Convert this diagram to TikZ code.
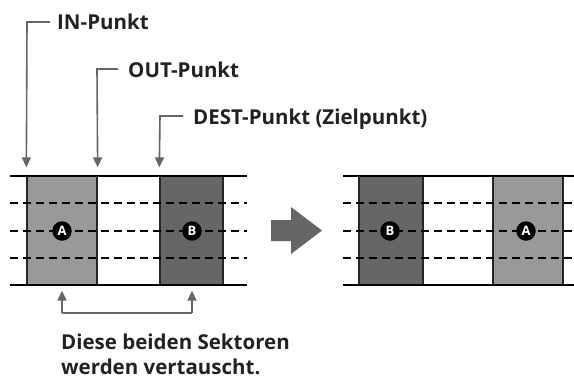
\documentclass[tikz,border=0pt]{standalone}
\usepackage{fontspec}
\setmainfont{Open Sans}
\usetikzlibrary{arrows.meta}
\definecolor{txt}{HTML}{222222}
\definecolor{arr}{HTML}{666666}
\definecolor{lightcol}{HTML}{999999}
\definecolor{darkcol}{HTML}{666666}
\tikzset{
  lbl/.style={anchor=base west, inner sep=0pt, text=txt, font=\bfseries\fontsize{20.5}{24}\selectfont},
  pointer/.style={draw=arr, line width=1.6pt, -{Triangle[width=9pt,length=10pt]}},
  rail/.style={draw=black, line width=2.2pt},
  dashrail/.style={draw=black, line width=2.2pt, dash pattern=on 8pt off 5pt},
  sector/.style={draw=black!85, line width=1.3pt, minimum width=#1, minimum height=109pt, inner sep=0pt},
  badge/.style={circle, fill=black, text=white, inner sep=0pt, minimum size=19.5pt, font=\bfseries\fontsize{13}{13}\selectfont},
  bigarrow/.style={fill=arr}
}
\begin{document}
\begin{tikzpicture}[x=1pt,y=-1pt]
\useasboundingbox (0,0) rectangle (574,378);
% left panel
\node[sector=70pt, fill=lightcol] (colA) at (62,230.5) {};
\node[sector=63pt, fill=darkcol] (colB) at (191.5,230.5) {};
\coordinate (Lt1) at (10,176); \coordinate (Lt2) at (247,176);
\coordinate (Lb1) at (10,285); \coordinate (Lb2) at (247,285);
\draw[rail] (Lt1) -- (Lt2);
\draw[rail] (Lb1) -- (Lb2);
\foreach \y in {203,231,258} \draw[dashrail] (10,\y) -- (247,\y);
\node[badge] (bA) at (62,231) {A};
\node[badge] (bB) at (192,231) {B};
% right panel
\node[sector=70pt, fill=lightcol] (colA2) at (528,230.5) {};
\node[sector=64pt, fill=darkcol] (colB2) at (391,230.5) {};
\coordinate (Rt1) at (343,176); \coordinate (Rt2) at (574,176);
\coordinate (Rb1) at (343,285); \coordinate (Rb2) at (574,285);
\draw[rail] (Rt1) -- (Rt2);
\draw[rail] (Rb1) -- (Rb2);
\foreach \y in {203,231,258} \draw[dashrail] (343,\y) -- (574,\y);
\node[badge] (bB2) at (390,231) {B};
\node[badge] (bA2) at (526,231) {A};
% big arrow
\fill[bigarrow] (271,220) -- (291,220) -- (291,207) -- (322,230.5) -- (291,254) -- (291,241) -- (271,241) -- cycle;
% labels
\node[lbl] (tIN) at (57,29) {IN-Punkt};
\node[lbl] (tOUT) at (128,77) {OUT-Punkt};
\node[lbl] (tDEST) at (193,124) {DEST-Punkt (Zielpunkt)};
\coordinate (sIN) at (50,22);   \coordinate (eIN) at (27,22);
\coordinate (sOUT) at (118,69); \coordinate (eOUT) at (97,69);
\coordinate (sDEST) at (183,116); \coordinate (eDEST) at (160,116);
\draw[pointer] (sIN) -- (eIN) -- ([yshift=8pt]colA.north west);
\draw[pointer] (sOUT) -- (eOUT) -- ([yshift=8pt]colA.north east);
\draw[pointer] (sDEST) -- (eDEST) -- ([yshift=8pt]colB.north west);
% swap bracket
\coordinate (s1) at (62,313);
\coordinate (s2) at (192,313);
\draw[pointer] (s1) -- ([yshift=-5pt]colA.south);
\draw[pointer] (s2) -- ([yshift=-5pt,xshift=0.5pt]colB.south);
\draw[draw=arr, line width=1.6pt] (s1) -- (s2);
\node[lbl] (t1) at (61,349) {Diese beiden Sektoren};
\node[lbl] (t2) at (61,374) {werden vertauscht.};
\end{tikzpicture}
\end{document}
